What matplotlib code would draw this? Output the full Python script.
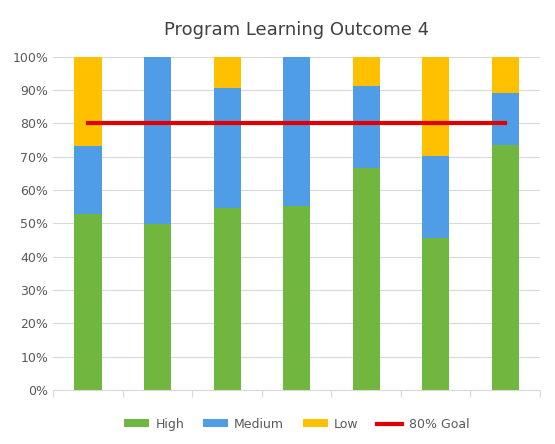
import matplotlib
matplotlib.use("Agg")
import matplotlib.pyplot as plt
import numpy as np

categories = ["1", "2", "3", "4", "5", "6", "7"]
high = [52.9, 49.8, 54.7, 55.3, 66.7, 45.6, 73.6]
medium = [20.4, 50.2, 36.0, 44.7, 24.6, 24.7, 15.6]
low = [26.7, 0.0, 9.3, 0.0, 8.7, 29.7, 10.8]
goal = [80] * 7

fig = plt.figure(figsize=(5.55, 4.44), dpi=100)
ax = fig.add_axes([0.096, 0.122, 0.877, 0.75])
x = np.arange(len(categories))
w = 0.39
b1 = ax.bar(x, high, w, color="#70B63F", label="High")
b2 = ax.bar(x, medium, w, bottom=high, color="#4E9DE6", label="Medium")
b3 = ax.bar(x, low, w, bottom=np.array(high) + np.array(medium), color="#FFC000", label="Low")
l1, = ax.plot(x, goal, color="#E00000", lw=3, label="80% Goal")

ax.set_xlim(-0.5, 6.5)
ax.set_ylim(0, 100)
ax.set_yticks(np.arange(0, 101, 10))
ax.set_yticklabels([f"{v}%" for v in range(0, 101, 10)], fontsize=9, color="#595959")
ax.set_xticks(np.arange(-0.5, 7, 1))
ax.set_xticklabels([])
ax.tick_params(axis="x", length=5, color="#D9D9D9")
ax.tick_params(axis="y", length=0)
ax.grid(axis="y", color="#D9D9D9", lw=0.8)
ax.set_axisbelow(True)
for s in ["top", "right", "left"]:
    ax.spines[s].set_visible(False)
ax.spines["bottom"].set_color("#D9D9D9")
ax.set_title("Program Learning Outcome 4", fontsize=13, color="#404040", pad=16)
ax.legend([b1, b2, b3, l1], ["High", "Medium", "Low", "80% Goal"],
          loc="upper center", bbox_to_anchor=(0.5, -0.05), ncol=4, frameon=False,
          fontsize=9, labelcolor="#595959", handlelength=2.0, handleheight=0.6,
          columnspacing=1.5, handletextpad=0.5)
fig.savefig("out.png", dpi=100)
